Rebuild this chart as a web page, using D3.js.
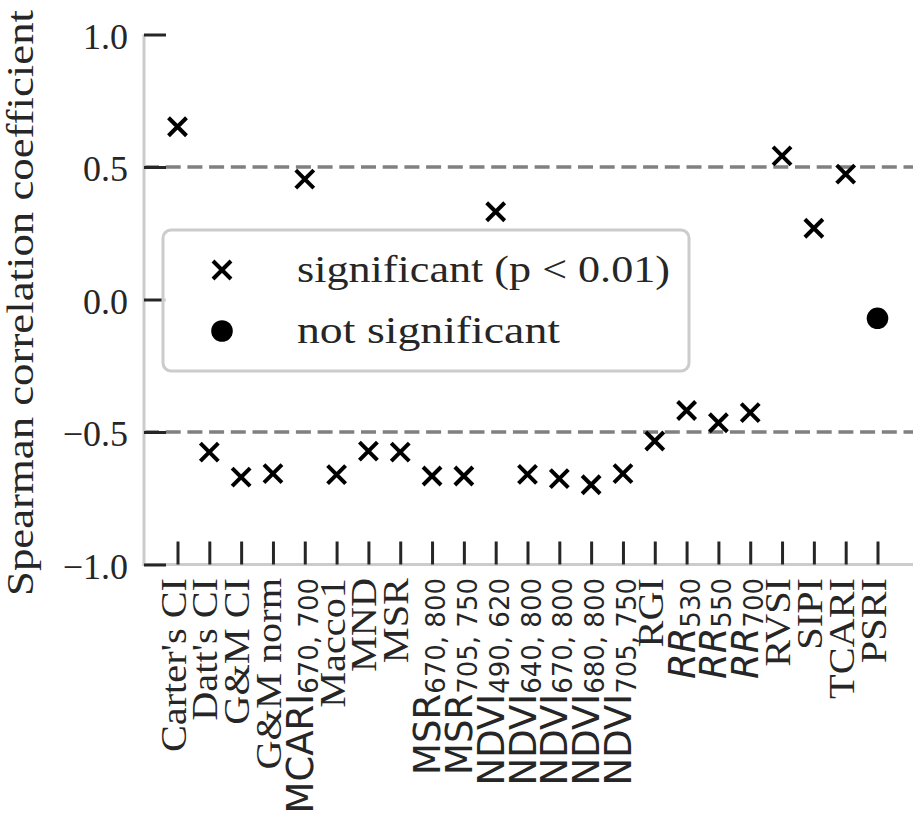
<!DOCTYPE html>
<meta charset="utf-8">
<style>
body { margin: 0; background: #fff; }
text { fill: #262626; }
.serif { font-family: "Liberation Serif", serif; }
.sans { font-family: "DejaVu Sans", sans-serif; }
.tick line { stroke: #262626; stroke-width: 3px; }
.spine { stroke: #cccccc; stroke-width: 3px; }
.ref { stroke: #808080; stroke-width: 3.5px; stroke-dasharray: 15 6.7; }
</style>
<body>
<script src="https://d3js.org/d3.v7.min.js"></script>
<script>

// vegetation index names; indices with a wavelength subscript are drawn like mathtext
var names = ["Carter's CI", "Datt's CI", "G&M CI", "G&M norm", "MCARI", "Macco1", "MND", "MSR",
             "MSR", "MSR", "NDVI", "NDVI", "NDVI", "NDVI", "NDVI", "RGI", "RR", "RR", "RR",
             "RVSI", "SIPI", "TCARI", "PSRI"];
var subs = ["", "", "", "", "670, 700", "", "", "", "670, 800", "705, 750", "490, 620", "640, 800",
            "670, 800", "680, 800", "705, 750", "", "530", "550", "700", "", "", "", ""];
var italicNames = ["RR"];

// Spearman correlation coefficients
var rho = [0.652, -0.576, -0.670, -0.657, 0.454, -0.661, -0.572, -0.576, -0.666, -0.666, 0.331,
           -0.660, -0.676, -0.699, -0.657, -0.534, -0.419, -0.465, -0.427, 0.542, 0.269, 0.473, -0.071];
var significant = [true, true, true, true, true, true, true, true, true, true, true, true,
                   true, true, true, true, true, true, true, true, true, true, false];

var yTicks = [-1, -0.5, 0, 0.5, 1];
var refLines = [-0.5, 0.5];
var legendItems = ["significant (p < 0.01)", "not significant"];

var W = 922, H = 818;
var svg = d3.select("body").append("svg")
    .attr("width", W)
    .attr("height", H);

var x = d3.scalePoint()
    .domain(d3.range(names.length))
    .range([142.5, 912.5])
    .padding(1.1);
var y = d3.scaleLinear().domain([-1, 1]).range([564.5, 34.5]);

// marker shapes
function xMark(sel) {
  sel.append("path")
     .attr("d", "M-9,-9L9,9M-9,9L9,-9")
     .attr("stroke", "#000")
     .attr("stroke-width", 4)
     .attr("fill", "none");
}
function dotMark(sel) {
  sel.append("circle").attr("r", 10.8).attr("fill", "#000");
}

// reference lines at +/-0.5
svg.selectAll(".ref")
    .data(refLines)
  .enter().append("line")
    .attr("class", "ref")
    .attr("x1", 144).attr("x2", 913)
    .attr("y1", d => y(d)).attr("y2", d => y(d));

// spines
svg.append("line").attr("class", "spine")
    .attr("x1", 144).attr("x2", 144).attr("y1", y(1)).attr("y2", y(-1) + 1.5);
svg.append("line").attr("class", "spine")
    .attr("x1", 142.5).attr("x2", 913).attr("y1", y(-1)).attr("y2", y(-1));

// y axis (ticks point inward, labels outside)
var yAxis = svg.append("g")
    .attr("transform", "translate(144,0)")
    .call(d3.axisLeft(y)
        .tickValues(yTicks)
        .tickSize(-22)
        .tickPadding(16)
        .tickFormat(d3.format(".1f")));
yAxis.select(".domain").remove();
yAxis.selectAll("text")
    .attr("class", "serif")
    .attr("font-size", 36)
    .attr("dy", "0.38em")
    .attr("fill", "#262626");

// x axis ticks
var xAxis = svg.append("g")
    .attr("transform", "translate(0," + y(-1) + ")")
    .call(d3.axisBottom(x).tickSize(-23).tickFormat(""));
xAxis.select(".domain").remove();

// x tick labels, rotated
var lab = svg.selectAll(".xlab")
    .data(names)
  .enter().append("g")
    .attr("class", "xlab")
    .attr("transform", function(d, i) {
      var k = subs[i] ? 1 : 1.12;
      return "translate(" + x(i) + ",578) rotate(-90) scale(" + k + ",1)";
    });
lab.each(function(d, i) {
  var t = d3.select(this).append("text")
      .attr("text-anchor", "end")
      .attr("y", 8);
  if (subs[i]) {
    t.attr("class", "sans").attr("font-size", 37);
    t.append("tspan")
        .attr("font-style", italicNames.indexOf(d) >= 0 ? "italic" : "normal")
        .text(d);
    t.append("tspan").attr("font-size", 26).attr("dy", 5).text(subs[i]);
  } else {
    t.attr("class", "serif").attr("font-size", 36).text(d);
  }
});

// y axis label
svg.append("text")
    .attr("class", "serif")
    .attr("transform", "translate(33,303) rotate(-90)")
    .attr("text-anchor", "middle")
    .attr("font-size", 37)
    .attr("textLength", 586)
    .attr("lengthAdjust", "spacingAndGlyphs")
    .text("Spearman correlation coefficient");

// data points
var pts = svg.selectAll(".pt")
    .data(rho)
  .enter().append("g")
    .attr("class", "pt")
    .attr("transform", (d, i) => "translate(" + x(i) + "," + y(d) + ")");
pts.filter((d, i) => significant[i]).call(xMark);
pts.filter((d, i) => !significant[i]).call(dotMark);

// legend
var leg = svg.append("g");
leg.append("rect")
    .attr("x", 163).attr("y", 230)
    .attr("width", 526).attr("height", 141)
    .attr("rx", 8)
    .attr("fill", "#fff").attr("fill-opacity", 0.8)
    .attr("stroke", "#cccccc").attr("stroke-width", 3);
var legRows = leg.selectAll(".legrow")
    .data(legendItems)
  .enter().append("g")
    .attr("class", "legrow")
    .attr("transform", (d, i) => "translate(222," + (270 + i * 61) + ")");
legRows.filter((d, i) => i === 0).call(xMark);
legRows.filter((d, i) => i === 1).call(dotMark);
legRows.append("text")
    .attr("class", "serif")
    .attr("x", 75)
    .attr("y", 12)
    .attr("font-size", 38)
    .attr("textLength", (d, i) => i === 0 ? 373 : 263)
    .attr("lengthAdjust", "spacingAndGlyphs")
    .text(d => d);

</script>
</body>
